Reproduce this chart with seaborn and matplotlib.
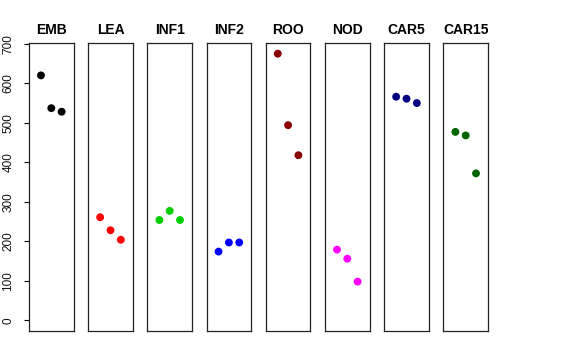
import matplotlib
matplotlib.use("Agg")
import matplotlib.pyplot as plt
import seaborn as sns
import pandas as pd

sns.set_theme(style="white")
plt.rcParams['font.family'] = ['Liberation Sans', 'DejaVu Sans']

# Data
groups = ["EMB", "LEA", "INF1", "INF2", "ROO", "NOD", "CAR5", "CAR15"]
replicate = [1, 2, 3]
EMB = [620, 537, 528]
LEA = [261, 228, 204]
INF1 = [254, 277, 254]
INF2 = [174, 197, 197]
ROO = [675, 494, 418]
NOD = [179, 156, 98]
CAR5 = [566, 561, 550]
CAR15 = [477, 468, 372]
values = [EMB, LEA, INF1, INF2, ROO, NOD, CAR5, CAR15]
colors = ["#000000", "#FF0000", "#00CD00", "#0000FF", "#8B0000", "#FF00FF", "#000080", "#006400"]
yticks = [0, 100, 200, 300, 400, 500, 600, 700]

W, H = 576, 360
fig = plt.figure(figsize=(W / 100, H / 100), dpi=100)

top_px, bot_px = 43, 331
pw = 44.6
lefts = [29 + 59.2 * i for i in range(8)]

for i, (g, vals, c) in enumerate(zip(groups, values, colors)):
    ax = fig.add_axes([lefts[i] / W, 1 - bot_px / H, pw / W, (bot_px - top_px) / H])
    df = pd.DataFrame({"x": replicate, "y": vals})
    sns.scatterplot(data=df, x="x", y="y", color=c, s=32, edgecolor="none", ax=ax, legend=False)
    ax.set_xlim(-0.16, 4.16)
    ax.set_ylim(-27, 702)
    ax.set_xlabel("")
    ax.set_ylabel("")
    ax.set_xticks([])
    for sp in ax.spines.values():
        sp.set_visible(True)
        sp.set_color("#222222")
        sp.set_linewidth(0.9)
    ax.set_title(g, fontsize=10, fontweight="bold", pad=6.5, color="black")
    if i == 0:
        ax.set_yticks(yticks)
        ax.set_yticklabels([str(t) for t in yticks])
        ax.tick_params(axis="y", left=True, length=3.6, width=0.8, color="black",
                       labelsize=8.5, pad=7, labelrotation=90, labelcolor="#111111")
        for lab in ax.get_yticklabels():
            lab.set_verticalalignment("center")
    else:
        ax.set_yticks([])
    ax.set_facecolor("white")

fig.savefig("out.png", dpi=100, facecolor="white")
